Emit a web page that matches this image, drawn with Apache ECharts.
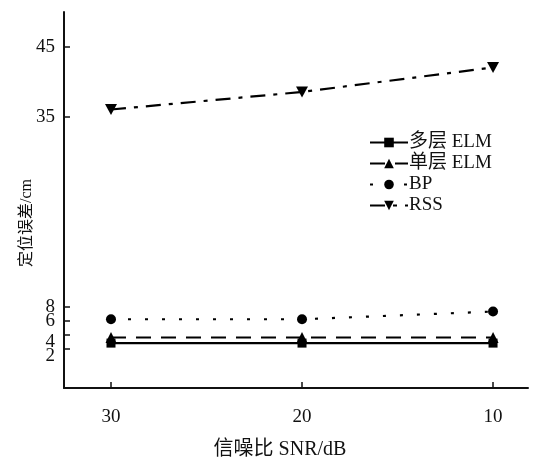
<!DOCTYPE html>
<html>
<head>
<meta charset="utf-8">
<script src="https://cdn.jsdelivr.net/npm/echarts@6/dist/echarts.min.js"></script>
<style>
  html, body { margin: 0; padding: 0; background: #fff; }
  #chart { width: 542px; height: 461px; }
</style>
</head>
<body>
<div id="chart"></div>
<script>
// SNR levels (dB) and localisation error (cm) for each method
const snrLevels = [30, 20, 10];
const multiElm = [2.8, 2.8, 2.8];
const singleElm = [3.6, 3.6, 3.6];
const bp = [6.2, 6.2, 7.3];
const rss = [36.1, 38.6, 42.1];

const yTicks = [2, 4, 6, 8, 35, 45];
// tick labels split over two scales so neighbouring labels never collide
const yLabelsA = [2, 6, 35];
const yLabelsB = [4, 8, 45];
const yLabelsLowered = [2, 4];
const xTicks = [30, 20, 10];

const seriesNames = ['多层 ELM', '单层 ELM', 'BP', 'RSS'];

const FONT = '"Liberation Serif", "Noto Sans CJK SC", serif';
const Y_MIN = -3.6;
const Y_MAX = 50;

function pairs(values) {
  return snrLevels.map((s, i) => [s, values[i]]);
}

const chart = echarts.init(document.getElementById('chart'));

const styles = [
  { data: multiElm, symbol: 'rect', size: 9, dash: 'solid' },
  { data: singleElm, symbol: 'triangle', size: 11, dash: [15, 10] },
  { data: bp, symbol: 'circle', size: 10, dash: [3, 14] },
  { data: rss, symbol: 'path://M0,0 L10,0 L5,9 Z', size: [12, 11], dash: [15, 8, 4, 8] }
];

function yLabel(values) {
  return {
    customValues: values,
    margin: 9,
    hideOverlap: false,
    fontFamily: FONT,
    fontSize: 19,
    lineHeight: 14,
    color: '#111',
    // the two lowest labels hang a little below their ticks
    formatter: function (v) {
      return yLabelsLowered.indexOf(v) >= 0 ? '\n' + v : String(v);
    }
  };
}

chart.setOption({
  animation: false,
  backgroundColor: '#fff',
  grid: { left: 64, right: 14, top: 12, bottom: 73, containLabel: false, outerBoundsMode: 'none' },
  legend: {
    orient: 'vertical',
    left: 364,
    top: 128,
    itemWidth: 38,
    itemHeight: 12,
    itemGap: 2,
    textStyle: { fontFamily: FONT, fontSize: 19, lineHeight: 19, color: '#111', padding: [0, 0, 0, -4] },
    data: seriesNames
  },
  xAxis: {
    type: 'value',
    inverse: true,
    min: 8.17,
    max: 32.46,
    name: '信噪比 SNR/dB',
    nameLocation: 'middle',
    nameGap: 52,
    nameMoveOverlap: false,
    nameTextStyle: { fontFamily: FONT, fontSize: 20, color: '#111', padding: [0, 32, 0, 0] },
    axisLine: { onZero: false, lineStyle: { color: '#111', width: 2 } },
    axisTick: { inside: true, length: 6, customValues: xTicks, lineStyle: { color: '#111', width: 1.5 } },
    axisLabel: { customValues: xTicks, margin: 20, hideOverlap: false, fontFamily: FONT, fontSize: 19, color: '#111' },
    splitLine: { show: false }
  },
  yAxis: [
    {
      type: 'value',
      min: Y_MIN,
      max: Y_MAX,
      name: '定位误差/cm',
      nameLocation: 'middle',
      nameGap: 29,
      nameRotate: 90,
      nameMoveOverlap: false,
      nameTextStyle: { fontFamily: FONT, fontSize: 16, color: '#111', padding: [0, 46, 0, 0] },
      axisLine: { show: true, onZero: false, lineStyle: { color: '#111', width: 2 } },
      axisTick: { show: true, inside: true, length: 6, customValues: yTicks, lineStyle: { color: '#111', width: 1.5 } },
      axisLabel: yLabel(yLabelsA),
      splitLine: { show: false }
    },
    {
      type: 'value',
      position: 'left',
      min: Y_MIN,
      max: Y_MAX,
      axisLine: { show: false, onZero: false },
      axisTick: { show: false },
      axisLabel: yLabel(yLabelsB),
      splitLine: { show: false }
    }
  ],
  series: styles.map((s, i) => ({
    name: seriesNames[i],
    type: 'line',
    data: pairs(s.data),
    symbol: s.symbol,
    symbolSize: s.size,
    showAllSymbol: true,
    lineStyle: { color: '#000', width: 2.2, type: s.dash },
    itemStyle: { color: '#000' },
    z: 3 + i
  }))
});
</script>
</body>
</html>
